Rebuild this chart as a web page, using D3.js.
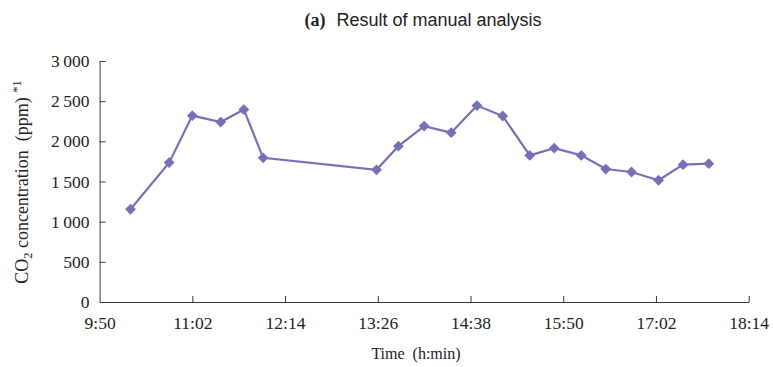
<!DOCTYPE html>
<html><head><meta charset="utf-8">
<script src="https://cdn.jsdelivr.net/npm/d3@7"></script>
<style>body{margin:0;background:#fff}</style>
</head><body>
<svg id="c" width="773" height="367"></svg>
<script>
const times = ["10:14","10:44","11:02","11:24","11:42","11:57","13:25","13:42","14:02","14:23","14:43","15:03","15:24","15:43","16:04","16:23","16:43","17:04","17:23","17:43"];
const co2 = [1155,1735,2320,2240,2395,1795,1645,1940,2190,2108,2445,2315,1825,1915,1825,1655,1618,1515,1710,1722];
const xTickLabels = ["9:50","11:02","12:14","13:26","14:38","15:50","17:02","18:14"];
const yTicks = [0,500,1000,1500,2000,2500,3000];

const toMin = s => { const [h,m] = s.split(":").map(Number); return h*60+m; };
const data = times.map((t,i)=>({t:toMin(t), v:co2[i]}));

const svg = d3.select("#c");
const L = 99.6, R = 748.7, T = 61, B = 302;
const x = d3.scaleLinear().domain([toMin("9:50"), toMin("18:14")]).range([L,R]);
const y = d3.scaleLinear().domain([0,3000]).range([B,T]);
const axisColor = "#3a3a3a";
const serif = "'Liberation Serif','Times New Roman',serif";
const fmtY = d => d >= 1000 ? Math.floor(d/1000)+"\u2009"+String(d%1000).padStart(3,"0") : String(d);

// y axis
const ya = svg.append("g").attr("transform",`translate(${L},0)`)
  .call(d3.axisLeft(y).tickValues(yTicks).tickSizeInner(-6).tickSizeOuter(0).tickPadding(10).tickFormat(fmtY));
ya.selectAll("path,line").attr("stroke",axisColor);
ya.selectAll("text").attr("font-family",serif).attr("font-size",17.5).attr("fill","#222");

// x axis
const xa = svg.append("g").attr("transform",`translate(0,${B})`)
  .call(d3.axisBottom(x).tickValues(xTickLabels.map(toMin)).tickSizeInner(-6).tickSizeOuter(0).tickPadding(15)
    .tickFormat((d,i)=>xTickLabels[i]));
xa.selectAll("path,line").attr("stroke",axisColor);
xa.selectAll("text").attr("font-family",serif).attr("font-size",17.5).attr("fill","#222");
xa.selectAll(".tick").filter((d,i)=>i===0).select("line").remove();

// line
const col = "#7571b7";
svg.append("path").datum(data)
  .attr("d", d3.line().x(d=>x(d.t)).y(d=>y(d.v)))
  .attr("fill","none").attr("stroke",col).attr("stroke-width",2.2);
svg.append("g").selectAll("path").data(data).join("path")
  .attr("transform",d=>`translate(${x(d.t)},${y(d.v)})`)
  .attr("d", d3.symbol(d3.symbolDiamond2, 75)())
  .attr("fill",col);

// title
const title = svg.append("text").attr("x",423).attr("y",26).attr("text-anchor","middle")
  .attr("font-size",18).attr("fill","#222");
title.append("tspan").attr("font-family",serif).attr("font-weight","bold").text("(a)");
title.append("tspan").attr("font-family","'Liberation Sans',Arial,sans-serif").attr("dx",11).text("Result of manual analysis");

// x title
svg.append("text").attr("x",416).attr("y",359).attr("text-anchor","middle")
  .attr("font-family",serif).attr("font-size",16).attr("fill","#222")
  .style("white-space","pre").text("Time  (h:min)");

// y title
const yt = svg.append("text").attr("transform","translate(28,182) rotate(-90)").attr("text-anchor","middle")
  .attr("font-family",serif).attr("font-size",18).attr("fill","#222").style("white-space","pre");
yt.append("tspan").text("CO");
yt.append("tspan").attr("font-size",12.5).attr("dy",4).text("2");
yt.append("tspan").attr("dy",-4).text(" concentration  (ppm) ");
yt.append("tspan").attr("font-size",12.5).attr("dy",-7).text("*1");
</script>
</body></html>
